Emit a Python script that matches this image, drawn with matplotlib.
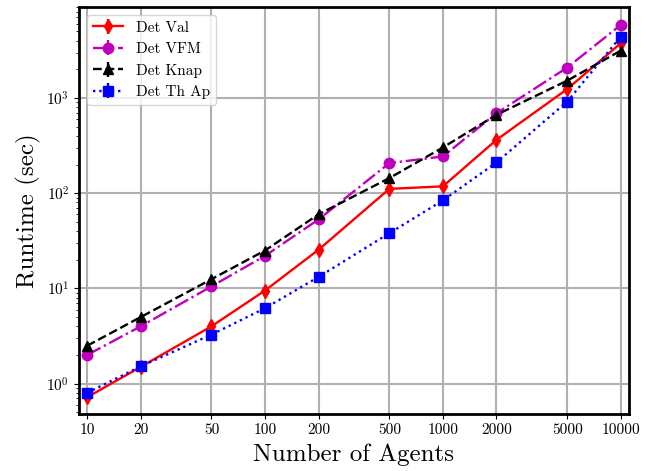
import matplotlib
matplotlib.use('Agg')
import matplotlib.pyplot as plt
from matplotlib.ticker import FixedLocator, FixedFormatter, NullLocator

plt.rcParams['font.family'] = 'cmr10'
plt.rcParams['mathtext.fontset'] = 'cm'
plt.rcParams['axes.formatter.use_mathtext'] = True

agents = [10, 20, 50, 100, 200, 500, 1000, 2000, 5000, 10000]
agent_labels = ['10', '20', '50', '100', '200', '500', '1000', '2000', '5000', '10000']

det_val = [0.72, 1.5, 4.0, 9.5, 25.5, 111, 118, 363, 1240, 3760]
det_vfm = [2.0, 4.0, 10.5, 22, 53, 207, 243, 690, 2085, 5850]
det_knap = [2.5, 5.0, 12.5, 25, 60, 144, 302, 665, 1520, 3140]
det_thap = [0.8, 1.52, 3.27, 6.2, 13.2, 38, 84, 210, 917, 4400]

fig = plt.figure(figsize=(6.53, 4.71), dpi=100)
ax = fig.add_axes([0.121, 0.121, 0.842, 0.864])

zero = [0] * len(agents)
ax.errorbar(agents, det_val, yerr=zero, fmt='r-d', lw=1.7, ms=7.5, label='Det Val')
ax.errorbar(agents, det_vfm, yerr=zero, fmt='m-.o', lw=1.7, ms=7.5, label='Det VFM')
ax.errorbar(agents, det_knap, yerr=zero, fmt='k--^', lw=1.7, ms=7.5, label='Det Knap')
ax.errorbar(agents, det_thap, yerr=zero, fmt='b:s', lw=1.7, ms=7, label='Det Th Ap')

ax.set_xscale('log')
ax.set_yscale('log')
ax.set_xlim(9.0, 11100)
ax.set_ylim(0.48, 9000)

ax.xaxis.set_major_locator(FixedLocator(agents))
ax.xaxis.set_major_formatter(FixedFormatter(agent_labels))
ax.xaxis.set_minor_locator(NullLocator())
ax.tick_params(axis='both', labelsize=11)

ax.grid(True, which='major', color='#b0b0b0', lw=1.5)
for s in ax.spines.values():
    s.set_linewidth(2)

ax.set_xlabel('Number of Agents', fontsize=18)
ax.set_ylabel('Runtime (sec)', fontsize=18)
ax.legend(loc='upper left', fontsize=11)

fig.savefig('out.png', dpi=100)
